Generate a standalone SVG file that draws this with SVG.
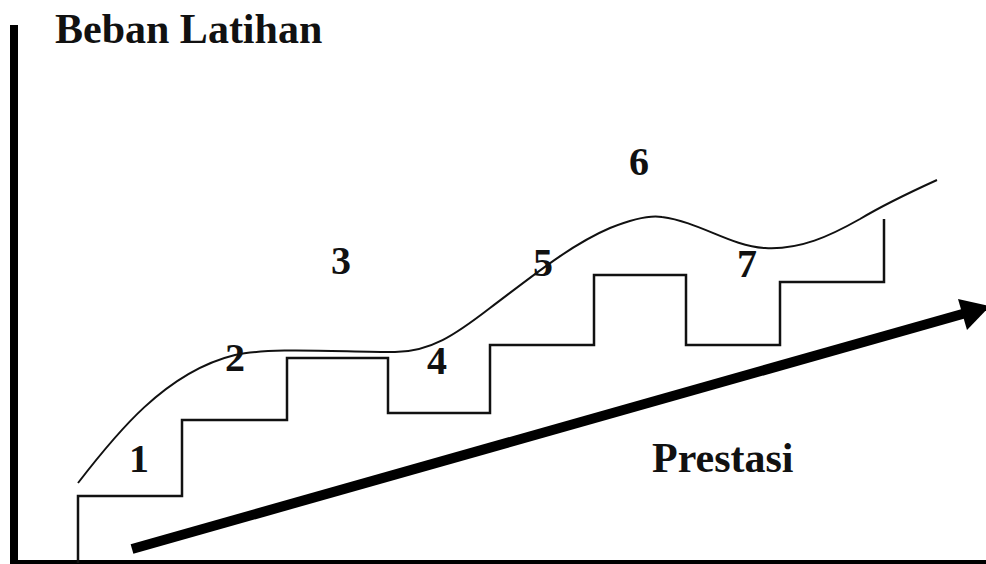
<svg xmlns="http://www.w3.org/2000/svg" width="986" height="564" viewBox="0 0 986 564">
<style>
.lbl{font-family:"Liberation Serif","Times New Roman",serif;font-size:40px;fill:#111;text-anchor:middle}
.b{font-weight:bold}
.ttl{font-family:"Liberation Serif","Times New Roman",serif;font-size:42px;font-weight:bold;fill:#111}
.ln{fill:none;stroke:#111;stroke-linejoin:miter}
</style>
<rect width="986" height="564" fill="#fff"/>
<g id="axes">
<line x1="14" y1="25" x2="14" y2="564" stroke="#000" stroke-width="8"/>
<line x1="10" y1="562" x2="986" y2="562" stroke="#000" stroke-width="4"/>
</g>
<g id="title"><text class="ttl" x="55" y="43">Beban Latihan</text></g>
<g id="connectors">
<path id="steps" class="ln" stroke-width="2.5" d="M78,563 V496 H182 V420 H287 V358 H388 V413 H490 V345 H594 V275 H686 V345 H780 V282 H884 V219"/>
<path id="curve" class="ln" stroke-width="2" d="M78,483 C115,435 165,372 235,355 C270,347 340,352 395,352 C430,352 455,335 490,308 C530,278 570,245 610,228 C635,218 650,215 662,217 C700,222 730,246 765,248 C800,250 830,236 860,219 C885,204 915,190 937,180"/>
<g id="arrow">
<line x1="132" y1="549" x2="966" y2="313" stroke="#000" stroke-width="10"/>
<polygon points="990,306 958,299 967,330" fill="#000"/>
</g>
</g>
<g id="labels">
<text class="lbl b" x="139" y="472">1</text>
<text class="lbl b" x="235" y="371">2</text>
<text class="lbl b" x="341" y="274">3</text>
<text class="lbl b" x="437" y="374">4</text>
<text class="lbl b" x="543" y="276">5</text>
<text class="lbl b" x="639" y="175">6</text>
<text class="lbl b" x="747" y="277">7</text>
</g>
<g id="prestasi"><text class="ttl" x="652" y="472" font-size="40">Prestasi</text></g>
</svg>
